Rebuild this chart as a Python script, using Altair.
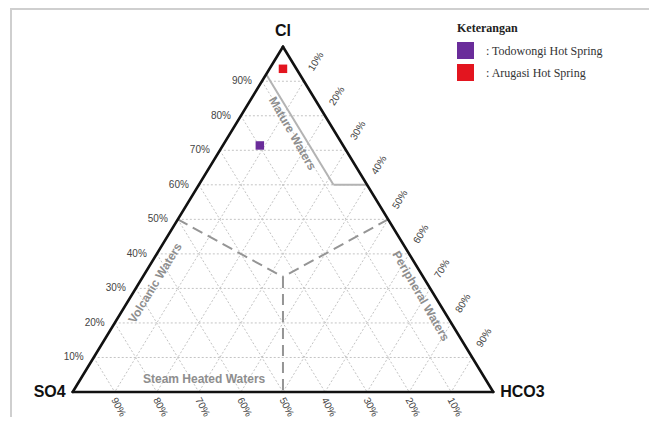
import math
import altair as alt
import pandas as pd

# ---------------- data (relative %) ----------------
samples = ["Todowongi Hot Spring", "Arugasi Hot Spring"]
cl_pct = [71.4, 93.6]
so4_pct = [19.8, 3.2]
hco3_pct = [8.8, 3.2]
sample_colors = ["#6a2c9a", "#e3151f"]

grid_levels = [10, 20, 30, 40, 50, 60, 70, 80, 90]
tick_labels = ["10%", "20%", "30%", "40%", "50%", "60%", "70%", "80%", "90%"]

# Mature waters boundary (Cl %, HCO3 %)
mature_cl = [92, 60, 60]
mature_hco3 = [0, 32, 40]
# Dashed field dividers: start (Cl, HCO3) -> end (Cl, HCO3)
divider_start_cl = [50, 50, 100 / 3]
divider_start_hco3 = [0, 50, 100 / 3]
divider_end_cl = [100 / 3, 100 / 3, 0]
divider_end_hco3 = [100 / 3, 100 / 3, 50]

region_names = ["Mature Waters", "Volcanic  Waters", "Peripheral Waters", "Steam Heated Waters"]
region_cl = [74.9, 31.6, 27.8, 3.7]
region_hco3 = [14.8, 3.8, 68.9, 29.4]
region_angle = [60, 301.4, 60, 0]

vertex_names = ["Cl", "SO4", "HCO3"]


def tx(cl, hco3):
    return hco3 / 100 + cl / 200


def ty(cl, hco3):
    return cl / 100


# ---------------- tables ----------------
seg = []
for f in grid_levels:
    # constant Cl
    seg.append(dict(x=tx(f, 0), y=ty(f, 0), x2=tx(f, 100 - f), y2=ty(f, 100 - f)))
    # constant SO4
    seg.append(dict(x=tx(100 - f, 0), y=ty(100 - f, 0), x2=tx(0, 100 - f), y2=ty(0, 100 - f)))
    # constant HCO3
    seg.append(dict(x=tx(100 - f, f), y=ty(100 - f, f), x2=tx(0, f), y2=ty(0, f)))
grid_df = pd.DataFrame(seg)

mature_df = pd.DataFrame([
    dict(x=tx(mature_cl[i], mature_hco3[i]), y=ty(mature_cl[i], mature_hco3[i]),
         x2=tx(mature_cl[i + 1], mature_hco3[i + 1]), y2=ty(mature_cl[i + 1], mature_hco3[i + 1]))
    for i in range(len(mature_cl) - 1)
])

div_df = pd.DataFrame([
    dict(x=tx(divider_start_cl[i], divider_start_hco3[i]), y=ty(divider_start_cl[i], divider_start_hco3[i]),
         x2=tx(divider_end_cl[i], divider_end_hco3[i]), y2=ty(divider_end_cl[i], divider_end_hco3[i]))
    for i in range(len(divider_start_cl))
])

border_df = pd.DataFrame([
    dict(x=tx(0, 0), y=ty(0, 0), x2=tx(100, 0), y2=ty(100, 0)),
    dict(x=tx(100, 0), y=ty(100, 0), x2=tx(0, 100), y2=ty(0, 100)),
    dict(x=tx(0, 100), y=ty(0, 100), x2=tx(0, 0), y2=ty(0, 0)),
])

pts_df = pd.DataFrame(dict(
    sample=samples,
    cl=cl_pct, so4=so4_pct, hco3=hco3_pct,
    x=[tx(c, h) for c, h in zip(cl_pct, hco3_pct)],
    y=[ty(c, h) for c, h in zip(cl_pct, hco3_pct)],
))

left_df = pd.DataFrame(dict(t=tick_labels, x=[tx(f, 0) for f in grid_levels], y=[ty(f, 0) for f in grid_levels]))
right_df = pd.DataFrame(dict(t=tick_labels, x=[tx(100 - f, f) for f in grid_levels], y=[ty(100 - f, f) for f in grid_levels]))
bottom_df = pd.DataFrame(dict(t=tick_labels, x=[tx(0, 100 - f) for f in grid_levels], y=[0.0] * len(grid_levels)))

region_df = pd.DataFrame(dict(t=region_names, x=[tx(c, h) for c, h in zip(region_cl, region_hco3)],
                              y=[ty(c, h) for c, h in zip(region_cl, region_hco3)], a=region_angle))

# ---------------- scales ----------------
W, H = 641, 409
xs = alt.Scale(domain=[-0.1538, 1.3703], nice=False, zero=False)
ys = alt.Scale(domain=[-0.0724, 1.1121], nice=False, zero=False)
X = lambda f="x": alt.X(f + ":Q", scale=xs, axis=None)
Y = lambda f="y": alt.Y(f + ":Q", scale=ys, axis=None)


def rules(df, **kw):
    return alt.Chart(df).mark_rule(**kw).encode(x=X(), y=Y(), x2="x2:Q", y2="y2:Q")


grid = rules(grid_df, color="#c4c4c4", strokeWidth=1, strokeDash=[2, 2])
mature = rules(mature_df, color="#b3b3b3", strokeWidth=2)
dividers = rules(div_df, color="#959595", strokeWidth=2, strokeDash=[11, 6])
border = rules(border_df, color="#111111", strokeWidth=2.6, strokeCap="round")

frame_left = alt.Chart(pd.DataFrame({"a": [0]})).mark_rule(color="#cfcfcf", strokeWidth=2).encode(
    x=alt.value(3), x2=alt.value(3), y=alt.value(0), y2=alt.value(H))
frame_top = alt.Chart(pd.DataFrame({"a": [0]})).mark_rule(color="#cfcfcf", strokeWidth=2).encode(
    x=alt.value(3), x2=alt.value(W), y=alt.value(1), y2=alt.value(1))

points = alt.Chart(pts_df).mark_square(size=72, opacity=1).encode(
    x=X(), y=Y(),
    color=alt.Color("sample:N",
                    scale=alt.Scale(domain=samples, range=sample_colors),
                    legend=alt.Legend(
                        title="Keterangan", orient="none", legendX=449, legendY=15,
                        titleFont="Liberation Serif", titleFontSize=12, titleFontWeight="bold",
                        titleColor="#222222", titlePadding=7,
                        labelFont="Liberation Serif", labelFontSize=12, labelColor="#333333",
                        labelExpr="': ' + datum.label", labelOffset=12,
                        symbolType="square", symbolSize=289, symbolStrokeWidth=0,
                        symbolOpacity=1, rowPadding=5)),
    tooltip=["sample:N", "cl:Q", "so4:Q", "hco3:Q"],
)

tick_style = dict(font="Liberation Sans", fontSize=10, color="#444444")
left_lbl = alt.Chart(left_df).mark_text(align="right", baseline="middle", dx=-10, **tick_style).encode(
    x=X(), y=Y(), text="t:N")
right_lbl = alt.Chart(right_df).mark_text(align="center", baseline="middle", angle=301.4, dx=23,
                                          **tick_style).encode(x=X(), y=Y(), text="t:N")
bottom_lbl = alt.Chart(bottom_df).mark_text(
    align="center", baseline="middle", angle=62, dx=15, dy=4, **tick_style).encode(
    x=X(), y=Y(), text="t:N")

region_lbl = alt.Chart(region_df).mark_text(font="Liberation Sans", fontSize=12, fontWeight="bold",
                                            color="#8e8e8e", align="center", baseline="middle").encode(
    x=X(), y=Y(), text="t:N", angle=alt.Angle("a:Q", scale=None))

vstyle = dict(font="Liberation Sans", fontSize=16, fontWeight="bold", color="#111111", baseline="middle")
v_cl = alt.Chart(pd.DataFrame(dict(t=[vertex_names[0]], x=[tx(100, 0)], y=[ty(100, 0)]))).mark_text(
    align="center", dy=-16, **vstyle).encode(x=X(), y=Y(), text="t:N")
v_so4 = alt.Chart(pd.DataFrame(dict(t=[vertex_names[1]], x=[tx(0, 0)], y=[ty(0, 0)]))).mark_text(
    align="right", dx=-7, **vstyle).encode(x=X(), y=Y(), text="t:N")
v_hco3 = alt.Chart(pd.DataFrame(dict(t=[vertex_names[2]], x=[tx(0, 100)], y=[ty(0, 100)]))).mark_text(
    align="left", dx=7, **vstyle).encode(x=X(), y=Y(), text="t:N")

chart = alt.layer(
    frame_left, frame_top, grid, mature, dividers, border, region_lbl,
    left_lbl, right_lbl, bottom_lbl, v_cl, v_so4, v_hco3, points,
).properties(width=W, height=H, padding=0, autosize="none", background="white").configure_view(stroke=None)

chart.save("out.html", embed_options={"renderer": "svg", "actions": False})
